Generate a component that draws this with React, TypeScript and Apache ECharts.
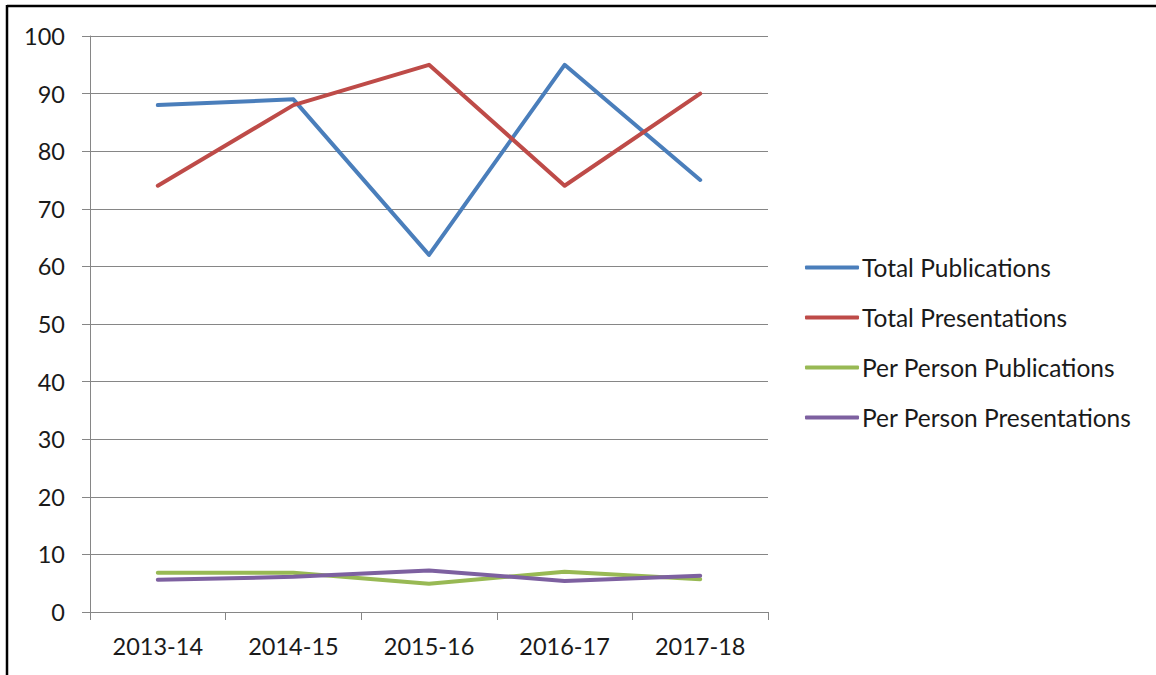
import React, { useEffect, useRef } from "react";
import * as echarts from "echarts";

const categories = ["2013-14", "2014-15", "2015-16", "2016-17", "2017-18"];
const totalPublications = [88, 89, 62, 95, 75];
const totalPresentations = [74, 88, 95, 74, 90];
const perPersonPublications = [6.8, 6.8, 4.9, 7.0, 5.7];
const perPersonPresentations = [5.6, 6.1, 7.2, 5.4, 6.3];
const seriesNames = [
  "Total Publications",
  "Total Presentations",
  "Per Person Publications",
  "Per Person Presentations",
];
const seriesColors = ["#4A7EBB", "#BE4B48", "#98B954", "#7D60A0"];

const FONT = "Lato, 'Open Sans', sans-serif";

export default function App() {
  const ref = useRef<HTMLDivElement>(null);
  useEffect(() => {
    if (!ref.current) return;
    const chart = echarts.init(ref.current, null, { renderer: "svg" });
    const data = [totalPublications, totalPresentations, perPersonPublications, perPersonPresentations];
    chart.setOption({
      animation: false,
      backgroundColor: "#ffffff",
      grid: { left: 90, top: 36, right: 388, bottom: 63, containLabel: false },
      legend: {
        orient: "vertical",
        left: 805,
        top: 255,
        padding: 0,
        itemWidth: 54,
        itemHeight: 4,
        itemGap: 25,
        icon: "roundRect",
        textStyle: { fontFamily: FONT, fontSize: 24.5, color: "#1a1a1a", padding: [0, 0, 0, -2], lineHeight: 20 },
        data: seriesNames,
      },
      xAxis: {
        type: "category",
        data: categories,
        boundaryGap: true,
        axisLine: { lineStyle: { color: "#868686", width: 1 } },
        axisTick: { show: true, length: 8, lineStyle: { color: "#868686" } },
        axisLabel: { fontFamily: FONT, fontSize: 23.5, color: "#1a1a1a", margin: 22 },
        splitLine: { show: false },
      },
      yAxis: {
        type: "value",
        min: 0,
        max: 100,
        interval: 10,
        axisLine: { show: true, lineStyle: { color: "#868686", width: 1 } },
        axisTick: { show: true, length: 8, lineStyle: { color: "#868686" } },
        axisLabel: { fontFamily: FONT, fontSize: 23.5, color: "#1a1a1a", margin: 25 },
        splitLine: { show: true, lineStyle: { color: "#868686", width: 1 } },
      },
      series: seriesNames.map((name, i) => ({
        name,
        type: "line",
        data: data[i],
        symbol: "none",
        showSymbol: false,
        color: seriesColors[i],
        lineStyle: { width: 4, color: seriesColors[i], cap: "round", join: "round" },
        z: 2 + i,
      })),
      graphic: [
        { type: "line", shape: { x1: 7, y1: 6, x2: 1156, y2: 6 }, style: { stroke: "#000", lineWidth: 2.5 } },
        { type: "line", shape: { x1: 7, y1: 5, x2: 7, y2: 675 }, style: { stroke: "#000", lineWidth: 2.5 } },
      ],
    });
    return () => chart.dispose();
  }, []);
  return (
    <div
      ref={ref}
      style={{ position: "fixed", left: 0, top: 0, width: 1156, height: 675 }}
    />
  );
}
